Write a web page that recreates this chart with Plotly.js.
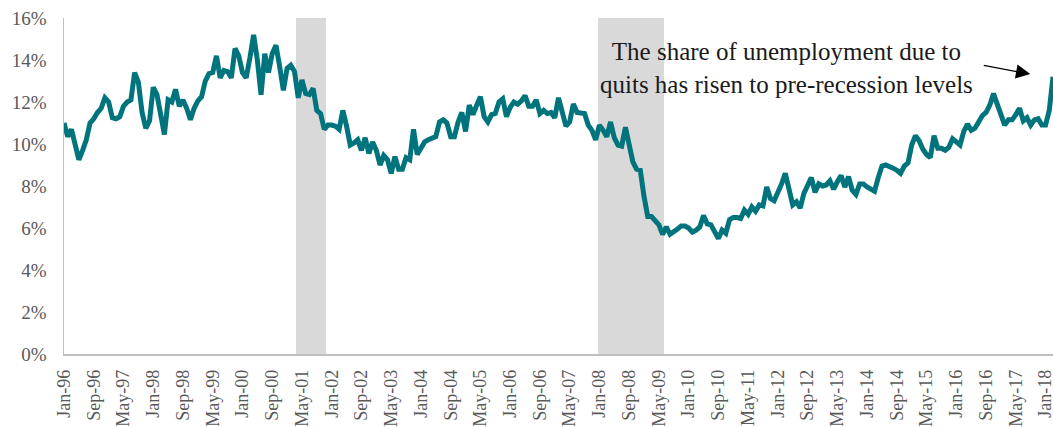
<!DOCTYPE html>
<html><head><meta charset="utf-8">
<script src="https://cdn.plot.ly/plotly-3.0.1.min.js"></script>
<style>html,body{margin:0;padding:0;background:#fff}#chart{width:1053px;height:427px}</style>
</head><body><div id="chart"></div>
<script>
// Categories: monthly, Jan-96 .. Mar-18
const MONTH_NAMES = ['Jan','Feb','Mar','Apr','May','Jun','Jul','Aug','Sep','Oct','Nov','Dec'];
const START_YEAR = 1996;
const N_MONTHS = 267;
const months = [];
for (let i = 0; i < N_MONTHS; i++) {
  const yy = (START_YEAR + Math.floor(i / 12)) % 100;
  months.push(MONTH_NAMES[i % 12] + '-' + String(yy).padStart(2, '0'));
}

// Share of unemployment due to quits (%)
const quitShare = [
  11.0,10.35,10.7,10.0,9.25,9.7,10.2,11.0,11.2,11.5,11.7,12.2,
  12.0,11.25,11.2,11.3,11.8,12.0,12.1,13.4,12.95,11.5,10.75,11.1,
  12.7,12.35,11.3,10.45,12.1,12.0,12.6,11.8,12.1,11.7,11.15,11.7,
  12.05,12.25,13.0,13.35,13.4,14.2,13.15,13.5,13.45,13.15,14.55,14.2,
  13.4,13.15,14.1,15.2,14.0,12.35,14.3,13.4,14.3,14.7,13.7,12.55,
  13.6,13.75,13.45,12.2,13.05,12.4,12.35,12.65,11.6,
  11.45,10.7,10.9,10.9,10.85,10.7,11.6,10.85,9.95,10.05,10.2,
  9.7,10.3,9.55,10.1,9.7,9.0,9.45,9.25,8.6,9.4,
  8.8,8.8,9.35,9.25,10.7,9.5,9.8,10.1,10.2,10.25,
  10.35,11.05,11.15,11.0,10.35,10.35,11.05,11.5,10.6,11.85,
  11.4,11.85,12.25,11.3,11.05,11.4,11.45,12.0,12.15,11.3,
  11.75,12.0,11.9,12.05,12.3,11.8,11.8,12.1,11.45,11.6,
  11.45,11.5,11.25,12.2,11.45,10.85,11.05,11.9,11.5,
  11.45,11.45,10.9,10.65,10.2,10.9,10.65,10.35,11.05,10.3,9.95,
  9.9,10.8,10.0,9.15,8.8,8.75,7.5,6.55,6.55,6.3,
  6.15,5.7,6.05,5.7,5.8,5.95,6.1,6.1,6.0,5.8,
  5.9,6.05,6.6,6.2,6.15,5.8,5.5,5.9,5.75,6.4,
  6.5,6.5,6.45,6.85,6.65,7.0,6.8,7.1,7.05,7.95,
  7.4,7.3,7.65,8.1,8.6,7.8,7.1,7.25,6.95,7.65,
  8.0,8.4,7.7,8.1,
  8.0,8.05,8.25,7.85,8.2,8.5,
  7.95,8.45,7.8,7.6,8.1,8.1,7.95,7.85,7.75,8.4,
  8.95,9.0,8.95,8.85,8.75,8.6,8.95,9.1,9.95,10.4,
  10.15,9.75,9.5,9.35,10.4,9.8,9.8,9.7,9.85,10.25,
  10.1,9.95,10.6,10.95,10.65,10.75,11.05,11.35,11.5,11.85,
  12.4,11.85,11.3,10.9,11.15,11.15,11.4,11.7,11.1,11.25,
  10.9,11.15,11.2,10.9,10.9,11.6,13.2
];

// Recession periods (shaded)
const recessionStart = ['Apr-01', 'Jan-08'];
const recessionEnd   = ['Nov-01', 'Jun-09'];
const SHADE_TOP = 16;

// Tick labels every 8 months
const tickLabels = months.filter((m, i) => i % 8 === 0);

const recessionBars = months.map((m, i) => {
  for (let k = 0; k < recessionStart.length; k++) {
    const a = months.indexOf(recessionStart[k]), b = months.indexOf(recessionEnd[k]);
    if (i >= a && i <= b) return SHADE_TOP;
  }
  return 0;
});

const FONT = 'Liberation Serif, Times New Roman, serif';

const traces = [
  {
    type: 'bar', x: months, y: recessionBars,
    marker: { color: '#d9d9d9', line: { width: 0 } },
    hoverinfo: 'skip', showlegend: false
  },
  {
    type: 'scatter', mode: 'lines', x: months, y: quitShare,
    line: { color: '#00747c', width: 5 },
    showlegend: false
  }
];

const layout = {
  width: 1053, height: 427,
  margin: { l: 64, r: 0, t: 18, b: 73 },
  paper_bgcolor: '#ffffff', plot_bgcolor: '#ffffff',
  bargap: 0,
  showlegend: false,
  font: { family: FONT, color: '#595959' },
  xaxis: {
    type: 'category',
    categoryorder: 'array', categoryarray: months,
    range: [0, N_MONTHS - 1],
    tickmode: 'array', tickvals: tickLabels, ticktext: tickLabels,
    tickangle: -90,
    ticklabelstandoff: 7,
    tickfont: { family: FONT, size: 18, color: '#595959' },
    showline: true, linecolor: '#bfbfbf', linewidth: 1.5,
    showgrid: false, zeroline: false, ticks: ''
  },
  yaxis: {
    range: [0, 16], dtick: 2, ticksuffix: '%',
    ticklabelstandoff: 12,
    tickfont: { family: FONT, size: 19, color: '#595959' },
    showline: true, linecolor: '#bfbfbf', linewidth: 1.5,
    showgrid: false, zeroline: false, ticks: ''
  },
  annotations: [
    {
      xref: 'paper', yref: 'paper', x: 0.731, y: 0.85,
      xanchor: 'center', yanchor: 'middle',
      text: 'The share of unemployment due to<br>quits has risen to pre-recession levels',
      showarrow: false, align: 'center',
      font: { family: FONT, size: 25, color: '#1a1a1a' }
    },
    {
      xref: 'paper', yref: 'paper', x: 0.977, y: 0.833,
      ax: -48, ay: -9, text: '',
      showarrow: true, arrowhead: 2, arrowsize: 2.2, arrowwidth: 1.3, arrowcolor: '#000000'
    }
  ]
};

Plotly.newPlot('chart', traces, layout, { staticPlot: true, displayModeBar: false });
</script>
</body></html>
